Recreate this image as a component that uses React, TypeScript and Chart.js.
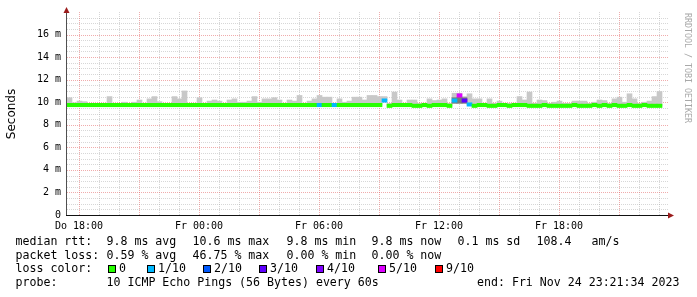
import { useEffect, useRef } from 'react';
import { Chart, registerables } from 'chart.js';

Chart.register(...registerables);

// ---- time axis (hours since Do 00:00) ----
const START_HOUR = 17.4; // Do 17:24, first sample
const STEP_HOURS = 0.25; // 15 min per sample
const X_MIN = 17.4;
const X_MAX = 47.45;
const Y_MAX = 18;

const xTickHours = [18, 24, 30, 36, 42];
const xTickLabels = ['Do 18:00', 'Fr 00:00', 'Fr 06:00', 'Fr 12:00', 'Fr 18:00'];

// ---- series (ms) ----
const medianMs = [
  9.75, 9.75, 9.75, 9.75, 9.75, 9.75, 9.75, 9.75, 9.75, 9.75,
  9.75, 9.75, 9.75, 9.75, 9.75, 9.75, 9.75, 9.75, 9.75, 9.75,
  9.75, 9.75, 9.75, 9.75, 9.75, 9.75, 9.75, 9.75, 9.75, 9.75,
  9.75, 9.75, 9.75, 9.75, 9.75, 9.75, 9.75, 9.75, 9.75, 9.75,
  9.75, 9.75, 9.75, 9.75, 9.75, 9.75, 9.75, 9.75, 9.75, 9.75,
  9.75, 9.75, 9.75, 9.75, 9.75, 9.75, 9.75, 9.75, 9.75, 9.75,
  9.75, 9.75, 9.75, 10.15, 9.68, 9.75, 9.75, 9.75, 9.75, 9.68,
  9.68, 9.75, 9.68, 9.75, 9.75, 9.75, 9.68, 10.15, 10.6, 10.15,
  9.8, 9.68, 9.75, 9.75, 9.68, 9.68, 9.75, 9.75, 9.68, 9.75,
  9.75, 9.75, 9.68, 9.68, 9.68, 9.75, 9.68, 9.68, 9.68, 9.68,
  9.68, 9.75, 9.68, 9.68, 9.68, 9.75, 9.68, 9.75, 9.68, 9.75,
  9.68, 9.68, 9.75, 9.68, 9.68, 9.75, 9.68, 9.68, 9.68,
];

const smokeTop = [
  10.4, 9.95, 10.1, 10.05, 9.9, 9.85, 9.85, 9.85, 10.5, 9.85,
  9.9, 10.0, 9.9, 10.0, 10.2, 9.9, 10.3, 10.5, 10.05, 9.85,
  9.9, 10.5, 10.3, 11.0, 9.9, 9.85, 10.4, 9.9, 10.1, 10.2,
  10.1, 9.9, 10.2, 10.3, 10.0, 10.0, 10.1, 10.5, 10.0, 10.3,
  10.3, 10.4, 10.2, 9.9, 10.2, 10.1, 10.6, 9.9, 10.1, 10.3,
  10.6, 10.45, 10.45, 9.9, 10.3, 10.0, 10.1, 10.45, 10.45, 10.2,
  10.6, 10.6, 10.5, 10.5, 9.9, 10.9, 10.2, 9.9, 10.2, 10.2,
  9.9, 9.9, 10.3, 10.15, 10.2, 10.3, 9.9, 10.8, 10.8, 10.5,
  10.75, 10.3, 10.3, 9.9, 10.3, 9.9, 10.1, 9.9, 9.9, 9.9,
  10.5, 10.2, 10.9, 9.9, 10.2, 10.15, 9.9, 10.0, 10.1, 9.9,
  9.9, 10.1, 10.1, 10.1, 9.9, 10.0, 10.2, 10.15, 9.9, 10.3,
  10.45, 10.0, 10.75, 10.3, 9.9, 10.0, 10.1, 10.5, 10.95,
];

// inner (dense) smoke, only where visible
const darkSmokeIdx = [77, 78, 79];
const darkSmokeLow = [9.9, 9.9, 9.9];
const darkSmokeHigh = [10.4, 10.45, 10.4];

// index into lossLabels / lossColors
const lossIdx = [
  0, 0, 0, 0, 0, 0, 0, 0, 0, 0,
  0, 0, 0, 0, 0, 0, 0, 0, 0, 0,
  0, 0, 0, 0, 0, 0, 0, 0, 0, 0,
  0, 0, 0, 0, 0, 0, 0, 0, 0, 0,
  0, 0, 0, 0, 0, 0, 0, 0, 0, 0,
  1, 0, 0, 1, 0, 0, 0, 0, 0, 0,
  0, 0, 0, 1, 0, 0, 0, 0, 0, 0,
  0, 0, 0, 0, 0, 0, 0, 1, 5, 3,
  1, 0, 0, 0, 0, 0, 0, 0, 0, 0,
  0, 0, 0, 0, 0, 0, 0, 0, 0, 0,
  0, 0, 0, 0, 0, 0, 0, 0, 0, 0,
  0, 0, 0, 0, 0, 0, 0, 0, 0,
];

const lossLabels = ['0', '1/10', '2/10', '3/10', '4/10', '5/10', '9/10'];
const lossColors = ['#26ff00', '#00b8ff', '#0059ff', '#5e00ff', '#7e00ff', '#dd00ff', '#ff0000'];

const rttTexts = ['median rtt:', '9.8 ms avg', '10.6 ms max', '9.8 ms min', '9.8 ms now', '0.1 ms sd', '108.4', 'am/s'];
const lossTexts = ['packet loss:', '0.59 % avg', '46.75 % max', '0.00 % min', '0.00 % now'];
const colorTitle = 'loss color:';
const probeTexts = ['probe:', '10 ICMP Echo Pings (56 Bytes) every 60s', 'end: Fri Nov 24 23:21:34 2023'];
const yTitle = 'Seconds';
const watermark = 'RRDTOOL / TOBI OETIKER';

const BAND_HALF = 0.15;

const MONO = '"DejaVu Sans Mono", monospace';

const rrdPlugin = {
  id: 'rrdDecor',
  beforeDatasetsDraw(chart: any) {
    const { ctx, chartArea: a, scales } = chart;
    const x = scales.x;
    const y = scales.y;
    ctx.save();
    ctx.lineWidth = 1;
    ctx.setLineDash([1, 1]);
    // minor
    ctx.strokeStyle = 'rgba(160,160,160,0.42)';
    ctx.beginPath();
    for (let k = 1; k < Y_MAX * 2; k++) {
      const v = k / 2;
      if (k % 4 === 0) continue;
      const py = Math.round(y.getPixelForValue(v)) + 0.5;
      ctx.moveTo(a.left, py);
      ctx.lineTo(a.right, py);
    }
    for (let h = Math.ceil(X_MIN); h <= X_MAX; h++) {
      if (h % 3 === 0) continue;
      const px = Math.round(x.getPixelForValue(h)) + 0.5;
      ctx.moveTo(px, a.top);
      ctx.lineTo(px, a.bottom);
    }
    ctx.stroke();
    // major
    ctx.strokeStyle = 'rgba(225,90,90,0.5)';
    ctx.beginPath();
    for (let v = 2; v < Y_MAX; v += 2) {
      const py = Math.round(y.getPixelForValue(v)) + 0.5;
      ctx.moveTo(a.left, py);
      ctx.lineTo(a.right, py);
    }
    for (let h = Math.ceil(X_MIN); h <= X_MAX; h++) {
      if (h % 3 !== 0) continue;
      const px = Math.round(x.getPixelForValue(h)) + 0.5;
      ctx.moveTo(px, a.top);
      ctx.lineTo(px, a.bottom);
    }
    ctx.stroke();
    ctx.restore();
  },
  afterDatasetsDraw(chart: any) {
    const { ctx, chartArea: a } = chart;
    ctx.save();
    ctx.setLineDash([]);
    ctx.lineWidth = 1;
    ctx.strokeStyle = '#505050';
    ctx.beginPath();
    ctx.moveTo(a.left - 0.5, a.top);
    ctx.lineTo(a.left - 0.5, a.bottom + 1);
    ctx.stroke();
    ctx.strokeStyle = '#111';
    ctx.beginPath();
    ctx.moveTo(a.left - 1, a.bottom + 0.5);
    ctx.lineTo(a.right, a.bottom + 0.5);
    ctx.stroke();
    ctx.fillStyle = '#9b1c1c';
    ctx.beginPath();
    ctx.moveTo(a.left - 3.5, a.top + 1);
    ctx.lineTo(a.left + 2.5, a.top + 1);
    ctx.lineTo(a.left - 0.5, a.top - 5);
    ctx.closePath();
    ctx.fill();
    ctx.beginPath();
    ctx.moveTo(a.right, a.bottom - 2.5);
    ctx.lineTo(a.right, a.bottom + 3.5);
    ctx.lineTo(a.right + 6, a.bottom + 0.5);
    ctx.closePath();
    ctx.fill();
    ctx.restore();
  },
  afterDraw(chart: any) {
    const { ctx } = chart;
    ctx.save();
    ctx.fillStyle = '#000';
    ctx.textBaseline = 'alphabetic';
    ctx.textAlign = 'left';
    ctx.font = `11.6px ${MONO}`;
    const rttX = [15.5, 106.5, 192.5, 286.5, 371.5, 457.5, 536.5, 591.5];
    rttTexts.forEach((t, i) => ctx.fillText(t, rttX[i], 245));
    const lossX = [15.5, 106.5, 192.5, 286.5, 371.5];
    lossTexts.forEach((t, i) => ctx.fillText(t, lossX[i], 258.5));
    ctx.fillText(colorTitle, 15.5, 272);
    const boxX = [108, 147, 203, 259, 316, 378, 435];
    lossLabels.forEach((t, i) => {
      ctx.fillStyle = lossColors[i];
      ctx.fillRect(boxX[i], 265, 8, 8);
      ctx.strokeStyle = '#000';
      ctx.lineWidth = 1;
      ctx.strokeRect(boxX[i] + 0.5, 265.5, 7, 7);
      ctx.fillStyle = '#000';
      ctx.fillText(t, boxX[i] + 11, 272);
    });
    const probeX = [15.5, 106.5, 477];
    probeTexts.forEach((t, i) => ctx.fillText(t, probeX[i], 285.5));

    // y title
    ctx.save();
    ctx.translate(14.5, 114);
    ctx.rotate(-Math.PI / 2);
    ctx.textAlign = 'center';
    ctx.font = '12px "DejaVu Sans", sans-serif';
    ctx.fillText(yTitle, 0, 0);
    ctx.restore();

    // watermark
    ctx.save();
    ctx.translate(684.5, 13);
    ctx.rotate(Math.PI / 2);
    ctx.textAlign = 'left';
    ctx.fillStyle = '#a8a8a8';
    ctx.font = `8.3px ${MONO}`;
    ctx.fillText(watermark, 0, 0);
    ctx.restore();
    ctx.restore();
  },
};

export default function App() {
  const canvasRef = useRef<HTMLCanvasElement | null>(null);

  useEffect(() => {
    document.body.style.margin = '0';
    const canvas = canvasRef.current;
    if (!canvas) return;
    const xs = medianMs.map((_, i) => START_HOUR + STEP_HOURS * (i + 0.5));

    const bandData = medianMs.map((m, i) => ({ x: xs[i], y: [m - BAND_HALF, m + BAND_HALF] }));
    const bandColors = lossIdx.map((l) => lossColors[l]);
    const smokeData = smokeTop.map((t, i) => ({ x: xs[i], y: [medianMs[i], Math.max(t, medianMs[i])] }));
    const darkData = darkSmokeIdx.map((idx, k) => ({ x: xs[idx], y: [darkSmokeLow[k], darkSmokeHigh[k]] }));

    const common = {
      grouped: false,
      barPercentage: 1,
      categoryPercentage: 1,
      borderWidth: 0,
      borderSkipped: false,
    };

    const chart = new Chart(canvas, {
      type: 'bar',
      data: {
        datasets: [
          { ...common, label: 'median', data: bandData as any, backgroundColor: bandColors },
          { ...common, label: 'smoke-dense', data: darkData as any, backgroundColor: '#7a7a7a' },
          { ...common, label: 'smoke', data: smokeData as any, backgroundColor: '#c8c8c8' },
        ],
      },
      options: {
        animation: false,
        responsive: false,
        events: [],
        layout: { padding: { left: 0, top: 12, right: 29, bottom: 0 } },
        plugins: { legend: { display: false }, tooltip: { enabled: false }, title: { display: false } },
        scales: {
          x: {
            type: 'linear',
            min: X_MIN,
            max: X_MAX,
            offset: false,
            grid: { display: false, drawTicks: false },
            border: { display: false },
            afterFit: (s: any) => { s.height = 82; },
            ticks: {
              stepSize: 6,
              autoSkip: false,
              maxRotation: 0,
              minRotation: 0,
              includeBounds: false,
              padding: 5,
              color: '#000',
              font: { family: MONO, size: 10 },
              callback: (v: any) => {
                const k = xTickHours.findIndex((h) => Math.abs(h - Number(v)) < 1e-6);
                return k >= 0 ? xTickLabels[k] : '';
              },
            },
          },
          y: {
            type: 'linear',
            min: 0,
            max: Y_MAX,
            grid: { display: false, drawTicks: false },
            border: { display: false },
            afterFit: (s: any) => { s.width = 67; },
            ticks: {
              stepSize: 2,
              padding: 6,
              color: '#000',
              font: { family: MONO, size: 10 },
              callback: (v: any) => {
                const n = Number(v);
                if (n >= Y_MAX) return '';
                return n === 0 ? '0' : `${n} m`;
              },
            },
          },
        },
      },
      plugins: [rrdPlugin],
    });
    return () => chart.destroy();
  }, []);

  return (
    <div style={{ position: 'fixed', left: 0, top: 0, width: 697, height: 297, background: '#fff' }}>
      <canvas ref={canvasRef} width={697} height={297} style={{ display: 'block' }} />
    </div>
  );
}
